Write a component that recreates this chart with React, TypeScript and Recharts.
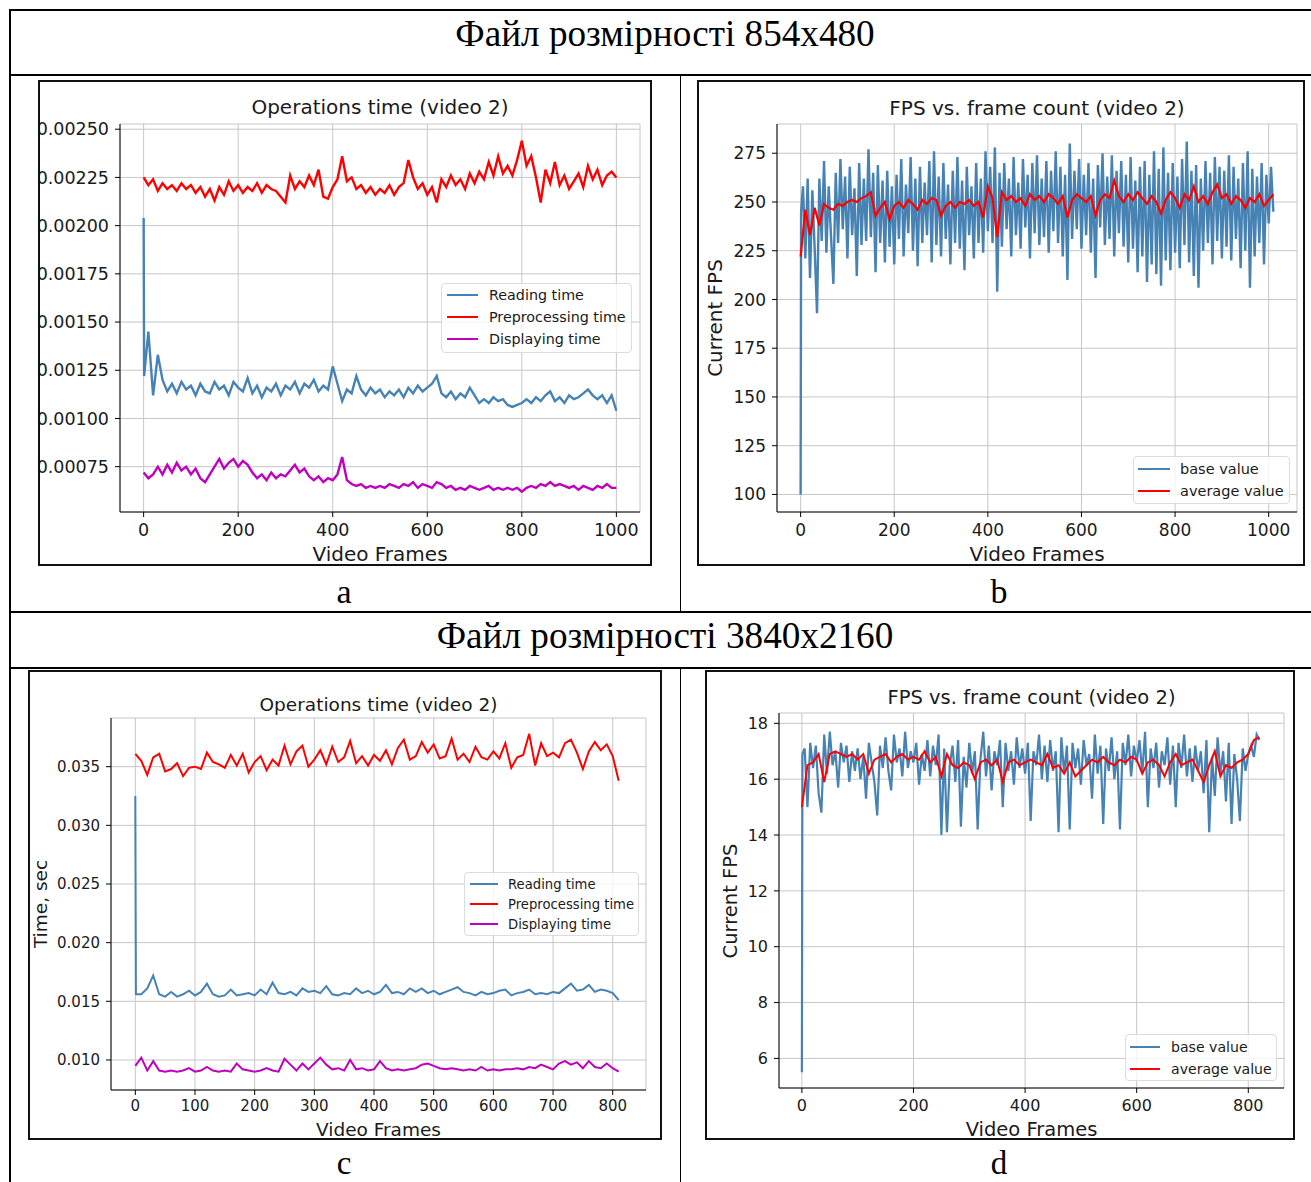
import React from 'react';
import { LineChart, Line, XAxis, YAxis, CartesianGrid } from 'recharts';

// ---- File 854x480 : operations time (ms, every 10th frame) ----
const A_STEP = 10;
const A_READING_SPIKE = 2.04;
const A_READING_MS = [
  1.22, 1.45, 1.12, 1.33, 1.20, 1.14, 1.18, 1.13, 1.19, 1.15,
  1.17, 1.12, 1.18, 1.14, 1.13, 1.19, 1.15, 1.17, 1.12, 1.19,
  1.16, 1.14, 1.21, 1.13, 1.17, 1.11, 1.16, 1.14, 1.18, 1.12,
  1.17, 1.15, 1.19, 1.13, 1.18, 1.16, 1.20, 1.14, 1.17, 1.15,
  1.27, 1.18, 1.09, 1.15, 1.13, 1.22, 1.15, 1.12, 1.16, 1.13,
  1.15, 1.11, 1.14, 1.12, 1.15, 1.11, 1.16, 1.13, 1.17, 1.14,
  1.16, 1.18, 1.22, 1.13, 1.11, 1.14, 1.10, 1.13, 1.11, 1.16,
  1.12, 1.08, 1.10, 1.08, 1.11, 1.09, 1.10, 1.07, 1.06, 1.07,
  1.08, 1.10, 1.08, 1.11, 1.09, 1.12, 1.14, 1.09, 1.11, 1.08,
  1.12, 1.10, 1.11, 1.13, 1.15, 1.12, 1.10, 1.12, 1.08, 1.12, 1.04,
];
const A_PREPROC_MS = [
  2.25, 2.21, 2.24, 2.18, 2.22, 2.19, 2.21, 2.18, 2.22, 2.19,
  2.21, 2.17, 2.20, 2.15, 2.19, 2.13, 2.20, 2.16, 2.23, 2.18,
  2.21, 2.17, 2.20, 2.18, 2.22, 2.17, 2.21, 2.19, 2.18, 2.15,
  2.12, 2.26, 2.19, 2.23, 2.20, 2.26, 2.21, 2.29, 2.15, 2.14,
  2.20, 2.24, 2.36, 2.23, 2.25, 2.19, 2.21, 2.17, 2.20, 2.16,
  2.19, 2.17, 2.21, 2.16, 2.20, 2.22, 2.34, 2.25, 2.19, 2.22,
  2.16, 2.20, 2.12, 2.24, 2.20, 2.26, 2.21, 2.24, 2.19, 2.27,
  2.22, 2.28, 2.24, 2.33, 2.26, 2.36, 2.27, 2.31, 2.26, 2.34,
  2.44, 2.31, 2.36, 2.25, 2.12, 2.29, 2.22, 2.33, 2.21, 2.26,
  2.19, 2.23, 2.27, 2.20, 2.31, 2.24, 2.29, 2.21, 2.26, 2.28, 2.25,
];
const A_DISPLAY_MS = [
  0.72, 0.69, 0.71, 0.75, 0.71, 0.76, 0.72, 0.77, 0.73, 0.75,
  0.71, 0.74, 0.69, 0.67, 0.71, 0.75, 0.79, 0.74, 0.77, 0.79,
  0.75, 0.78, 0.76, 0.72, 0.69, 0.71, 0.68, 0.72, 0.69, 0.71,
  0.70, 0.73, 0.76, 0.72, 0.74, 0.70, 0.68, 0.70, 0.67, 0.69,
  0.68, 0.71, 0.80, 0.68, 0.66, 0.65, 0.66, 0.64, 0.65, 0.64,
  0.65, 0.64, 0.66, 0.65, 0.64, 0.66, 0.65, 0.67, 0.64, 0.66,
  0.65, 0.64, 0.67, 0.66, 0.64, 0.65, 0.63, 0.64, 0.63, 0.65,
  0.64, 0.63, 0.64, 0.65, 0.63, 0.64, 0.63, 0.64, 0.63, 0.64,
  0.62, 0.64, 0.65, 0.64, 0.66, 0.65, 0.67, 0.65, 0.66, 0.65,
  0.64, 0.65, 0.63, 0.65, 0.64, 0.63, 0.65, 0.64, 0.66, 0.64, 0.64,
];

// ---- File 854x480 : FPS ----
const B_BASE_STEP = 5;
const B_BASE_SPIKE = 100;
const B_BASE = [
  245, 258, 221, 262, 211, 256, 226, 193, 262, 230,
  271, 224, 258, 232, 208, 265, 229, 272, 236, 263,
  221, 268, 233, 257, 212, 270, 228, 262, 230, 277,
  232, 265, 214, 269, 229, 261, 219, 266, 227, 258,
  218, 264, 231, 272, 222, 259, 234, 273, 225, 262,
  217, 268, 229, 260, 233, 271, 219, 276, 228, 263,
  222, 270, 231, 259, 218, 266, 229, 273, 226, 261,
  215, 268, 233, 258, 221, 270, 229, 262, 224, 276,
  235, 268, 229, 278, 204, 265, 227, 270, 236, 262,
  222, 273, 233, 260, 226, 272, 237, 264, 221, 270,
  234, 274, 228, 262, 232, 271, 224, 266, 235, 276,
  229, 268, 222, 264, 210, 280, 231, 266, 236, 272,
  226, 264, 233, 270, 224, 262, 211, 269, 237, 275,
  228, 263, 231, 274, 222, 266, 234, 271, 227, 264,
  219, 273, 226, 261, 214, 268, 222, 271, 209, 264,
  218, 276, 213, 267, 207, 278, 220, 265, 215, 270,
  224, 263, 216, 272, 228, 281, 219, 266, 212, 269,
  206, 262, 225, 271, 229, 265, 218, 273, 230, 268,
  221, 266, 227, 274, 220, 268, 231, 262, 216, 270,
  225, 276, 206, 267, 222, 263, 229, 270, 218, 264,
  239, 268, 245,
];
const B_AVG_STEP = 10;
const B_AVG = [
  222, 246, 233, 247, 238, 249, 247, 246, 249, 248,
  250, 251, 250, 252, 253, 255, 243, 247, 250, 241,
  248, 250, 247, 251, 249, 246, 251, 249, 252, 251,
  243, 248, 250, 247, 250, 249, 251, 248, 250, 242,
  258, 252, 232, 255, 251, 253, 250, 252, 248, 254,
  251, 253, 250, 254, 252, 249, 253, 242, 251, 254,
  252, 250, 253, 243, 251, 254, 252, 261, 253, 250,
  254, 251, 255, 252, 249, 253, 250, 244, 251, 255,
  252, 247, 254, 251, 258, 250, 253, 249, 255, 259,
  252, 254, 249, 253, 251, 247, 252, 250, 254, 248,
  251, 254,
];

// ---- File 3840x2160 : operations time (ms, every 10th frame) ----
const C_STEP = 10;
const C_READING_SPIKE = 32.5;
const C_READING_MS = [
  15.6, 15.6, 16.1, 17.2, 15.6, 15.4, 15.8, 15.4, 15.6, 15.9,
  15.5, 15.8, 16.5, 15.6, 15.4, 15.5, 16.0, 15.5, 15.6, 15.7,
  15.5, 16.0, 15.6, 16.6, 15.7, 15.6, 15.8, 15.5, 16.1, 15.8,
  15.9, 15.7, 16.3, 15.6, 15.5, 15.7, 15.6, 16.1, 15.7, 15.9,
  15.6, 15.8, 16.4, 15.7, 15.8, 15.6, 16.1, 15.8, 16.1, 15.7,
  15.9, 15.6, 15.8, 16.0, 16.2, 15.8, 15.7, 15.5, 15.8, 15.6,
  15.7, 15.9, 16.0, 15.5, 15.7, 15.8, 16.0, 15.6, 15.7, 15.6,
  15.8, 15.7, 16.1, 16.5, 15.9, 16.0, 16.4, 15.8, 16.0, 15.9,
  15.7, 15.1,
];
const C_PREPROC_MS = [
  36.1, 35.5, 34.3, 35.8, 36.1, 34.6, 34.8, 35.3, 34.2, 34.9,
  35.0, 34.8, 36.2, 35.4, 35.2, 34.9, 36.0, 35.1, 36.1, 34.5,
  35.4, 35.9, 34.7, 35.6, 35.1, 36.8, 35.2, 36.3, 36.8, 35.0,
  35.6, 36.4, 35.2, 36.7, 35.4, 35.8, 37.2, 35.3, 35.9, 35.1,
  36.0, 35.5, 36.4, 35.2, 36.6, 37.3, 35.6, 35.9, 37.1, 36.2,
  36.9, 35.7, 35.9, 37.4, 35.6, 36.1, 35.4, 36.7, 35.8, 35.6,
  36.3, 35.7, 37.0, 34.9, 35.8, 36.0, 37.8, 35.1, 37.0, 35.9,
  36.2, 35.8, 37.0, 37.3, 36.2, 34.8, 36.3, 37.1, 36.4, 36.9,
  35.9, 33.8,
];
const C_DISPLAY_MS = [
  9.5, 10.2, 9.1, 9.9, 9.1, 9.0, 9.1, 9.0, 9.1, 9.3,
  9.0, 9.1, 9.4, 9.1, 9.0, 9.1, 9.0, 9.7, 9.2, 9.1,
  9.0, 9.1, 9.3, 9.1, 9.0, 10.1, 9.6, 9.1, 9.7, 9.2,
  9.7, 10.2, 9.6, 9.2, 9.3, 9.1, 10.0, 9.2, 9.3, 9.1,
  9.2, 9.9, 9.3, 9.1, 9.2, 9.1, 9.2, 9.3, 9.6, 9.7,
  9.5, 9.3, 9.2, 9.3, 9.2, 9.1, 9.2, 9.1, 9.4, 9.1,
  9.2, 9.1, 9.2, 9.2, 9.3, 9.2, 9.4, 9.3, 9.6, 9.4,
  9.2, 9.7, 9.9, 9.6, 9.8, 9.3, 9.9, 9.4, 9.3, 9.7,
  9.3, 9.0,
];

// ---- File 3840x2160 : FPS ----
const D_BASE_STEP = 5;
const D_BASE_SPIKE = 5.5;
const D_BASE = [
  16.9, 17.1, 15.0, 17.3, 16.4, 17.2, 15.5, 14.8, 17.6, 16.2,
  17.7, 16.5, 17.0, 15.7, 17.3, 16.6, 17.2, 15.9, 17.0, 16.3,
  17.1, 16.0, 16.8, 15.3, 17.3, 16.6, 15.9, 14.7, 17.2, 16.4,
  17.5, 16.3, 15.6, 17.6, 16.6, 17.1, 16.1, 17.7, 16.4, 17.0,
  16.6, 17.3, 15.8, 16.9, 16.3, 17.4, 16.1, 17.2, 16.5, 17.6,
  14.0, 17.1, 14.1, 16.5, 17.2, 15.9, 17.4, 14.3, 16.8, 15.7,
  17.3, 16.2, 17.0, 14.2, 16.7, 17.7, 16.1, 17.2, 15.6, 17.0,
  16.5, 17.4, 15.0, 17.3, 16.3, 17.0, 15.8, 17.5, 16.4, 17.1,
  16.2, 17.3, 14.5, 17.0, 16.5, 17.6, 16.0, 17.2, 15.9, 17.4,
  16.3, 17.0, 14.1, 17.5, 16.2, 17.2, 14.2, 17.3, 16.4, 17.1,
  15.8, 17.4, 16.5, 16.9, 15.3, 17.6, 16.2, 17.2, 14.4, 17.1,
  16.3, 17.5, 16.0, 17.0, 14.2, 17.3, 16.5, 17.6, 16.1, 17.2,
  16.6, 17.4, 16.2, 17.7, 15.0, 17.1, 16.4, 17.3, 15.7, 17.0,
  16.5, 17.5, 15.8, 17.2, 15.0, 17.3, 16.4, 17.6, 16.1, 17.1,
  15.9, 17.2, 16.3, 17.0, 15.5, 17.4, 14.1, 16.8, 15.4, 17.5,
  16.2, 17.0, 15.2, 17.3, 14.4, 16.9, 16.0, 14.5, 17.1, 16.3,
  16.9, 17.2, 16.8, 17.6, 17.4,
];
const D_AVG_STEP = 10;
const D_AVG = [
  15.0, 16.5, 16.6, 16.9, 15.9, 16.9, 17.0, 16.9, 16.8, 16.9,
  16.7, 16.9, 16.2, 16.7, 16.8, 16.9, 16.6, 16.8, 16.9, 16.7,
  16.8, 16.7, 17.0, 16.6, 16.8, 16.1, 16.9, 16.5, 16.4, 16.6,
  16.5, 16.0, 16.6, 16.7, 16.5, 16.7, 15.9, 16.6, 16.7, 16.5,
  16.6, 16.7, 16.6, 16.5, 16.9, 16.4, 16.5, 16.2, 16.6, 16.1,
  16.3, 16.5, 16.7, 16.6, 16.8, 16.6, 16.5, 16.7, 16.6, 16.8,
  16.7, 16.2, 16.6, 16.7, 16.5, 16.1, 16.6, 16.9, 16.5, 16.6,
  16.7, 16.3, 15.9, 16.5, 17.0, 16.1, 16.5, 16.4, 16.6, 16.7,
  16.9, 17.4, 17.5,
];

const FRAMES_1000 = [0, 200, 400, 600, 800, 1000];
const FRAMES_800 = [0, 100, 200, 300, 400, 500, 600, 700, 800];
const FRAMES_800_WIDE = [0, 200, 400, 600, 800];
const A_Y_TICKS = [0.00075, 0.001, 0.00125, 0.0015, 0.00175, 0.002, 0.00225, 0.0025];
const B_Y_TICKS = [100, 125, 150, 175, 200, 225, 250, 275];
const C_Y_TICKS = [0.01, 0.015, 0.02, 0.025, 0.03, 0.035];
const D_Y_TICKS = [6, 8, 10, 12, 14, 16, 18];

const BLUE = '#4682b4';
const RED = '#ff0000';
const MAGENTA = '#bf00bf';
const TEXT = '#1a1a1a';
const FONT = "'DejaVu Sans', sans-serif";
const SERIF = "'Liberation Serif', 'Times New Roman', serif";

type Pt = { f: number; v: number };
type Series = { name: string; color: string; data: Pt[]; width?: number };

// values[i] sits at frame i*step; an optional spike is put on frame 0 and values[0] moves to frame 1
function toPoints(values: number[], step: number, scale = 1, spike?: number): Pt[] {
  const pts = values.map((v, i) => ({ f: i === 0 && spike !== undefined ? 1 : i * step, v: v * scale }));
  return spike !== undefined ? [{ f: 0, v: spike * scale }, ...pts] : pts;
}

type LegendBox = { x: number; y: number; w: number; h: number; rows: number[]; sampleX: number; sampleW: number; textX: number; font: number };

type PanelProps = {
  box: { x: number; y: number; w: number; h: number };
  plot: { l: number; t: number; r: number; b: number };
  xDomain: [number, number];
  xTicks: number[];
  yDomain: [number, number];
  yTicks: number[];
  yFmt: (v: number) => string;
  tickFont: number;
  xTickGap: number;
  labelFont: number;
  title: string;
  titleY: number;
  xLabelY: number;
  yLabel?: string;
  yLabelX?: number;
  series: Series[];
  legend: LegendBox;
};

const Panel: React.FC<PanelProps> = (p) => {
  const { box, plot, legend } = p;
  const cx = (plot.l + plot.r) / 2;
  const tick = { fill: TEXT, fontSize: p.tickFont, fontFamily: FONT };
  return (
    <div style={{ position: 'absolute', left: box.x, top: box.y, width: box.w, height: box.h, background: '#fff', fontFamily: FONT, color: TEXT }}>
      <LineChart
        width={box.w}
        height={box.h}
        margin={{ top: plot.t, right: box.w - plot.r, bottom: 0, left: 0 }}
        style={{ fontFamily: FONT }}
      >
        <CartesianGrid stroke="#c6c6c6" strokeWidth={1} />
        <XAxis
          dataKey="f"
          type="number"
          domain={p.xDomain}
          ticks={p.xTicks}
          interval={0}
          height={box.h - plot.b}
          tickSize={5}
          tickMargin={p.xTickGap}
          tick={tick}
          stroke="#000"
          allowDataOverflow
        />
        <XAxis xAxisId="top" orientation="top" dataKey="f" type="number" domain={p.xDomain} height={0} tick={false} tickLine={false} stroke="#000" allowDataOverflow />
        <YAxis
          type="number"
          domain={p.yDomain}
          ticks={p.yTicks}
          interval={0}
          width={plot.l}
          tickFormatter={p.yFmt}
          tickSize={5}
          tickMargin={6}
          tick={tick}
          stroke="#000"
          allowDataOverflow
        />
        <YAxis yAxisId="right" orientation="right" type="number" domain={p.yDomain} width={0} tick={false} tickLine={false} stroke="#000" allowDataOverflow />
        {p.series.map((s) => (
          <Line
            key={s.name}
            data={s.data}
            dataKey="v"
            type="linear"
            stroke={s.color}
            strokeWidth={s.width ?? 2}
            dot={false}
            isAnimationActive={false}
          />
        ))}
      </LineChart>

      {/* title and axis labels */}
      <div style={{ position: 'absolute', left: cx, top: p.titleY, transform: 'translate(-50%, -50%)', fontSize: p.labelFont, whiteSpace: 'nowrap' }}>
        {p.title}
      </div>
      <div style={{ position: 'absolute', left: cx, top: p.xLabelY, transform: 'translate(-50%, -50%)', fontSize: p.labelFont, whiteSpace: 'nowrap' }}>
        Video Frames
      </div>
      {p.yLabel && (
        <div style={{ position: 'absolute', left: p.yLabelX, top: (plot.t + plot.b) / 2, transform: 'translate(-50%, -50%) rotate(-90deg)', fontSize: p.labelFont, whiteSpace: 'nowrap' }}>
          {p.yLabel}
        </div>
      )}

      {/* legend */}
      <div style={{ position: 'absolute', left: legend.x, top: legend.y, width: legend.w, height: legend.h, border: '1px solid #dcdcdc', borderRadius: 4, background: 'rgba(255,255,255,0.8)', boxSizing: 'border-box' }}>
        {p.series.map((s, i) => (
          <React.Fragment key={s.name}>
            <div style={{ position: 'absolute', left: legend.sampleX, top: legend.rows[i] - 1, width: legend.sampleW, height: 2, background: s.color }} />
            <div style={{ position: 'absolute', left: legend.textX, top: legend.rows[i], transform: 'translateY(-50%)', fontSize: legend.font, whiteSpace: 'nowrap' }}>
              {s.name}
            </div>
          </React.Fragment>
        ))}
      </div>

      <div style={{ position: 'absolute', inset: 0, border: '2px solid #111', boxSizing: 'border-box', pointerEvents: 'none' }} />
    </div>
  );
};

const opsA: Series[] = [
  { name: 'Reading time', color: BLUE, data: toPoints(A_READING_MS, A_STEP, 0.001, A_READING_SPIKE), width: 2.4 },
  { name: 'Preprocessing time', color: RED, data: toPoints(A_PREPROC_MS, A_STEP, 0.001), width: 2.4 },
  { name: 'Displaying time', color: MAGENTA, data: toPoints(A_DISPLAY_MS, A_STEP, 0.001), width: 2.4 },
];
const fpsB: Series[] = [
  { name: 'base value', color: BLUE, data: toPoints(B_BASE, B_BASE_STEP, 1, B_BASE_SPIKE), width: 2.4 },
  { name: 'average value', color: RED, data: toPoints(B_AVG, B_AVG_STEP), width: 2.2 },
];
const opsC: Series[] = [
  { name: 'Reading time', color: BLUE, data: toPoints(C_READING_MS, C_STEP, 0.001, C_READING_SPIKE) },
  { name: 'Preprocessing time', color: RED, data: toPoints(C_PREPROC_MS, C_STEP, 0.001) },
  { name: 'Displaying time', color: MAGENTA, data: toPoints(C_DISPLAY_MS, C_STEP, 0.001) },
];
const fpsD: Series[] = [
  { name: 'base value', color: BLUE, data: toPoints(D_BASE, D_BASE_STEP, 1, D_BASE_SPIKE), width: 2.2 },
  { name: 'average value', color: RED, data: toPoints(D_AVG, D_AVG_STEP) },
];

const hLine = (top: number, h = 2): React.CSSProperties => ({ position: 'absolute', left: 9, top, width: 1302, height: h, background: '#000' });
const vLine = (left: number, top: number, height: number): React.CSSProperties => ({ position: 'absolute', left, top, width: 1, height, background: '#000' });
const serifText = (x: number, y: number, size: number): React.CSSProperties => ({
  position: 'absolute', left: x, top: y, transform: 'translate(-50%, -50%)', fontFamily: SERIF, fontSize: size, color: '#000', whiteSpace: 'nowrap',
});

export default function App() {
  return (
    <div style={{ position: 'absolute', left: 0, top: 0, width: 1311, height: 1182, background: '#fff', overflow: 'hidden' }}>
      {/* table grid */}
      <div style={hLine(9)} />
      <div style={{ position: 'absolute', left: 9, top: 9, width: 2, height: 1173, background: '#000' }} />
      <div style={hLine(74)} />
      <div style={hLine(611)} />
      <div style={hLine(667)} />
      <div style={vLine(680, 75, 537)} />
      <div style={vLine(680, 668, 514)} />

      <div style={serifText(665, 33, 37.2)}>Файл розмірності 854x480</div>
      <div style={serifText(665, 635, 37.2)}>Файл розмірності 3840x2160</div>
      <div style={serifText(344, 592, 34)}>a</div>
      <div style={serifText(999, 592, 34)}>b</div>
      <div style={serifText(344, 1163, 33)}>c</div>
      <div style={serifText(999, 1163, 33)}>d</div>

      <Panel
        box={{ x: 38, y: 80, w: 614, h: 486 }}
        plot={{ l: 82, t: 44, r: 602, b: 432 }}
        xDomain={[-50, 1050]}
        xTicks={FRAMES_1000}
        yDomain={[0.000515, 0.002527]}
        yTicks={A_Y_TICKS}
        yFmt={(v) => v.toFixed(5)}
        tickFont={17.5}
        xTickGap={7}
        labelFont={20}
        title="Operations time (video 2)"
        titleY={27}
        xLabelY={474}
        series={opsA}
        legend={{ x: 403, y: 203, w: 191, h: 70, rows: [11, 33, 55], sampleX: 5, sampleW: 31, textX: 47, font: 14.3 }}
      />

      <Panel
        box={{ x: 697, y: 80, w: 608, h: 486 }}
        plot={{ l: 80, t: 44, r: 600, b: 432 }}
        xDomain={[-50.5, 1060.5]}
        xTicks={FRAMES_1000}
        yDomain={[91, 290]}
        yTicks={B_Y_TICKS}
        yFmt={(v) => String(v)}
        tickFont={17}
        xTickGap={7}
        labelFont={20}
        title="FPS vs. frame count (video 2)"
        titleY={28}
        xLabelY={474}
        yLabel="Current FPS"
        yLabelX={18}
        series={fpsB}
        legend={{ x: 436, y: 376, w: 157, h: 48, rows: [12, 34], sampleX: 4, sampleW: 32, textX: 46, font: 14.5 }}
      />

      <Panel
        box={{ x: 28, y: 670, w: 634, h: 470 }}
        plot={{ l: 83, t: 48, r: 618, b: 420 }}
        xDomain={[-40.75, 855.75]}
        xTicks={FRAMES_800}
        yDomain={[0.00744, 0.03915]}
        yTicks={C_Y_TICKS}
        yFmt={(v) => v.toFixed(3)}
        tickFont={15}
        xTickGap={5}
        labelFont={18.5}
        title="Operations time (video 2)"
        titleY={34}
        xLabelY={459}
        yLabel="Time, sec"
        yLabelX={12}
        series={opsC}
        legend={{ x: 436, y: 202, w: 175, h: 64, rows: [11, 31, 51], sampleX: 5, sampleW: 28, textX: 43, font: 13.2 }}
      />

      <Panel
        box={{ x: 705, y: 670, w: 590, h: 470 }}
        plot={{ l: 74, t: 43, r: 579, b: 418 }}
        xDomain={[-41, 864]}
        xTicks={FRAMES_800_WIDE}
        yDomain={[4.94, 18.37]}
        yTicks={D_Y_TICKS}
        yFmt={(v) => String(v)}
        tickFont={16}
        xTickGap={7}
        labelFont={19.5}
        title="FPS vs. frame count (video 2)"
        titleY={27}
        xLabelY={459}
        yLabel="Current FPS"
        yLabelX={25}
        series={fpsD}
        legend={{ x: 420, y: 364, w: 152, h: 47, rows: [12, 34], sampleX: 4, sampleW: 30, textX: 45, font: 14.1 }}
      />
</div>
  );
}
